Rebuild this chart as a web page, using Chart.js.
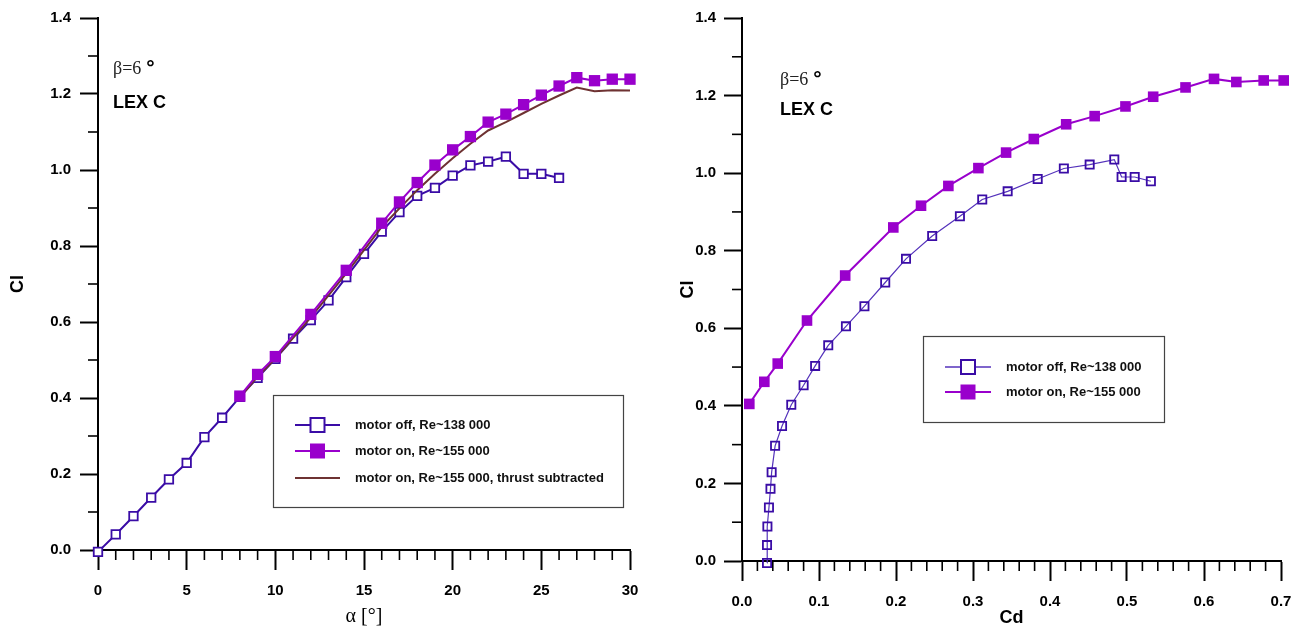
<!DOCTYPE html>
<html>
<head>
<meta charset="utf-8">
<script src="https://cdn.jsdelivr.net/npm/chart.js@4.4.1/dist/chart.umd.min.js"></script>
<style>
    html, body { margin: 0; padding: 0; background: #fff; }
    #wrap { position: relative; width: 1305px; height: 633px; overflow: hidden; }
    #alphaChart { position: absolute; left: 0; top: 0; }
    #dragChart { position: absolute; left: 660px; top: 0; }
</style>
</head>
<body>
<div id="wrap">
    <canvas id="alphaChart" width="660" height="633"></canvas>
    <canvas id="dragChart" width="645" height="633"></canvas>
</div>
<script>
// series names
const seriesNames = ['motor off, Re~138 000', 'motor on, Re~155 000', 'motor on, Re~155 000, thrust subtracted'];

// motor off
const alphaOff = [0, 1, 2, 3, 4, 5, 6, 7, 8, 9, 10, 11, 12, 13, 14, 15, 16, 17, 18, 19, 20, 21, 22, 23, 24, 25, 26];
const clOff = [-0.005, 0.041, 0.089, 0.138, 0.186, 0.229, 0.297, 0.348, 0.403, 0.453, 0.503, 0.556, 0.605, 0.657, 0.718, 0.779, 0.838, 0.889, 0.932, 0.953, 0.985, 1.012, 1.022, 1.035, 0.990, 0.990, 0.979];
const cdOff = [0.0325, 0.0325, 0.033, 0.035, 0.037, 0.0385, 0.043, 0.052, 0.064, 0.080, 0.095, 0.112, 0.135, 0.159, 0.186, 0.213, 0.247, 0.283, 0.312, 0.345, 0.384, 0.418, 0.4515, 0.4835, 0.493, 0.510, 0.531];

// motor on
const alphaOn = [8, 9, 10, 12, 14, 16, 17, 18, 19, 20, 21, 22, 23, 24, 25, 26, 27, 28, 29, 30];
const clOn = [0.405, 0.462, 0.509, 0.620, 0.736, 0.860, 0.916, 0.967, 1.013, 1.053, 1.088, 1.126, 1.147, 1.172, 1.197, 1.221, 1.243, 1.235, 1.239, 1.239];
const cdOn = [0.0095, 0.029, 0.0464, 0.0844, 0.134, 0.1965, 0.2325, 0.268, 0.307, 0.343, 0.379, 0.421, 0.458, 0.498, 0.534, 0.576, 0.613, 0.642, 0.6775, 0.7035];

// motor on, thrust subtracted
const clThrust = [0.401, 0.456, 0.504, 0.612, 0.728, 0.850, 0.899, 0.947, 0.990, 1.031, 1.069, 1.104, 1.126, 1.150, 1.174, 1.196, 1.217, 1.207, 1.210, 1.209];

const betaText = 'β=6';
const configText = 'LEX C';

const sansFont = '"Liberation Sans", Arial, sans-serif';
const serifFont = '"Liberation Serif", "Times New Roman", serif';
const offColor = '#3a0ca6';
const onColor = '#9900cc';
const thrustColor = '#6e3232';

function pts(xs, ys) {
    return xs.map((x, i) => ({ x: x, y: ys[i] }));
}

// kleine Striche zwischen den Hauptticks
const minorTicks = {
    id: 'minorTicks',
    afterDraw(chart, args, opts) {
        const ctx = chart.ctx;
        const area = chart.chartArea;
        ctx.save();
        ctx.strokeStyle = '#000';
        ctx.lineWidth = 1.6;
        ['x', 'y'].forEach(id => {
            const sc = chart.scales[id];
            const step = opts[id];
            const major = sc.options.ticks.stepSize;
            const n = Math.round((sc.max - sc.min) / step);
            for (let i = 0; i <= n; i++) {
                const v = sc.min + i * step;
                const r = v / major;
                if (Math.abs(r - Math.round(r)) < 1e-6) continue;
                const p = sc.getPixelForValue(v);
                ctx.beginPath();
                if (id === 'x') {
                    ctx.moveTo(p, area.bottom);
                    ctx.lineTo(p, area.bottom + opts.len);
                } else {
                    ctx.moveTo(area.left - opts.len, p);
                    ctx.lineTo(area.left, p);
                }
                ctx.stroke();
            }
        });
        ctx.restore();
    }
};

// Beschriftung + Legende
const notes = {
    id: 'notes',
    afterDraw(chart, args, o) {
        const ctx = chart.ctx;
        ctx.save();
        ctx.textBaseline = 'middle';
        ctx.textAlign = 'left';
        ctx.fillStyle = '#222';
        ctx.font = '18px ' + serifFont;
        ctx.fillText(betaText, o.betaX, o.betaY);
        const w = ctx.measureText(betaText).width;
        ctx.fillStyle = '#000';
        ctx.font = 'bold 21px ' + sansFont;
        ctx.fillText('°', o.betaX + w + 5, o.betaY - 1);
        ctx.font = 'bold 18px ' + sansFont;
        ctx.fillText(configText, o.betaX, o.lexY);

        // legend box
        const b = o.box;
        ctx.strokeStyle = '#444';
        ctx.lineWidth = 1.2;
        ctx.strokeRect(b[0] + 0.5, b[1] + 0.5, b[2], b[3]);

        chart.data.datasets.forEach((ds, i) => {
            const y = o.rowY[i];
            ctx.strokeStyle = ds.borderColor;
            ctx.lineWidth = Math.max(ds.borderWidth, 1.5);
            ctx.beginPath();
            ctx.moveTo(o.lineX[0], y);
            ctx.lineTo(o.lineX[1], y);
            ctx.stroke();
            if (ds.pointRadius > 0) {
                const cx = (o.lineX[0] + o.lineX[1]) / 2;
                const s = 14;
                if (ds.filled) {
                    ctx.fillStyle = ds.pointBackgroundColor;
                    ctx.fillRect(cx - s / 2 - 0.5, y - s / 2 - 0.5, s + 1, s + 1);
                } else {
                    ctx.fillStyle = '#fff';
                    ctx.fillRect(cx - s / 2, y - s / 2, s, s);
                    ctx.strokeStyle = ds.pointBorderColor;
                    ctx.lineWidth = 2;
                    ctx.strokeRect(cx - s / 2, y - s / 2, s, s);
                }
            }
            ctx.fillStyle = '#111';
            ctx.font = 'bold 13px ' + sansFont;
            ctx.fillText(seriesNames[i], o.textX, y);
        });
        ctx.restore();
    }
};

function axis(min, max, step, fmt, tickLen, pad, fitSize, horizontal, title) {
    return {
        type: 'linear',
        min: min,
        max: max,
        afterFit(scale) {
            if (horizontal) scale.height = fitSize; else scale.width = fitSize;
        },
        border: { display: true, color: '#000', width: 2 },
        grid: {
            drawOnChartArea: false,
            drawTicks: true,
            tickLength: tickLen,
            tickWidth: 2,
            tickColor: '#000',
            color: '#000'
        },
        ticks: {
            stepSize: step,
            autoSkip: false,
            maxRotation: 0,
            padding: pad,
            color: '#000',
            font: { family: sansFont, weight: 'bold', size: 15 },
            callback: fmt
        },
        title: title
    };
}

const fixed1 = v => Number(v).toFixed(1);
const plain = v => String(v);

// linkes Diagramm: Cl über alpha
new Chart(document.getElementById('alphaChart'), {
    type: 'line',
    data: {
        datasets: [
            {
                data: pts(alphaOff, clOff),
                borderColor: offColor,
                borderWidth: 2,
                pointStyle: 'rect',
                pointRadius: 6,
                pointBorderWidth: 1.8,
                pointBorderColor: offColor,
                pointBackgroundColor: '#fff',
                filled: false,
                order: 2,
                clip: false
            },
            {
                data: pts(alphaOn, clOn),
                borderColor: onColor,
                borderWidth: 2,
                pointStyle: 'rect',
                pointRadius: 8,
                pointBorderWidth: 0,
                pointBorderColor: onColor,
                pointBackgroundColor: onColor,
                filled: true,
                order: 0,
                clip: false
            },
            {
                data: pts(alphaOn, clThrust),
                borderColor: thrustColor,
                borderWidth: 2,
                pointRadius: 0,
                order: 1,
                clip: false
            }
        ]
    },
    options: {
        responsive: false,
        animation: false,
        events: [],
        layout: { padding: { left: 0, right: 30, top: 15, bottom: 0 } },
        elements: { line: { tension: 0 } },
        plugins: {
            legend: { display: false },
            tooltip: { enabled: false },
            minorTicks: { x: 1, y: 0.1, len: 10 },
            notes: {
                betaX: 113, betaY: 69, lexY: 103,
                box: [273, 395, 350, 112],
                rowY: [425, 451, 478],
                lineX: [295, 340],
                textX: 355
            }
        },
        scales: {
            x: axis(0, 30, 5, plain, 20, 12, 83, true, {
                display: true, text: 'α [°]', color: '#000',
                font: { family: serifFont, size: 20 },
                padding: { top: 0, bottom: 4 }
            }),
            y: axis(0, 1.4, 0.2, fixed1, 18, 9, 98, false, {
                display: true, text: 'Cl', color: '#000',
                font: { family: sansFont, weight: 'bold', size: 18 },
                padding: { top: 7, bottom: 0 }
            })
        }
    },
    plugins: [minorTicks, notes]
});

// rechtes Diagramm: Cl über Cd
new Chart(document.getElementById('dragChart'), {
    type: 'line',
    data: {
        datasets: [
            {
                data: pts(cdOff, clOff),
                borderColor: '#5432bb',
                borderWidth: 1.2,
                pointStyle: 'rect',
                pointRadius: 5.8,
                pointBorderWidth: 1.8,
                pointBorderColor: offColor,
                pointBackgroundColor: 'rgba(0,0,0,0)',
                filled: false,
                order: 1,
                clip: false
            },
            {
                data: pts(cdOn, clOn),
                borderColor: onColor,
                borderWidth: 2,
                pointStyle: 'rect',
                pointRadius: 7.5,
                pointBorderWidth: 0,
                pointBorderColor: onColor,
                pointBackgroundColor: onColor,
                filled: true,
                order: 0,
                clip: false
            }
        ]
    },
    options: {
        responsive: false,
        animation: false,
        events: [],
        layout: { padding: { left: 0, right: 24, top: 18, bottom: 0 } },
        elements: { line: { tension: 0 } },
        plugins: {
            legend: { display: false },
            tooltip: { enabled: false },
            minorTicks: { x: 0.02, y: 0.1, len: 10 },
            notes: {
                betaX: 120, betaY: 80, lexY: 110,
                box: [263, 336, 241, 86],
                rowY: [367, 392],
                lineX: [285, 331],
                textX: 346
            }
        },
        scales: {
            x: axis(0, 0.7, 0.1, fixed1, 20, 12, 72, true, {
                display: true, text: 'Cd', color: '#000',
                font: { family: sansFont, weight: 'bold', size: 18 },
                padding: { top: 0, bottom: 4 }
            }),
            y: axis(0, 1.4, 0.2, fixed1, 18, 8, 82, false, {
                display: true, text: 'Cl', color: '#000',
                font: { family: sansFont, weight: 'bold', size: 18 },
                padding: { top: 17, bottom: 0 }
            })
        }
    },
    plugins: [minorTicks, notes]
});
</script>
</body>
</html>
